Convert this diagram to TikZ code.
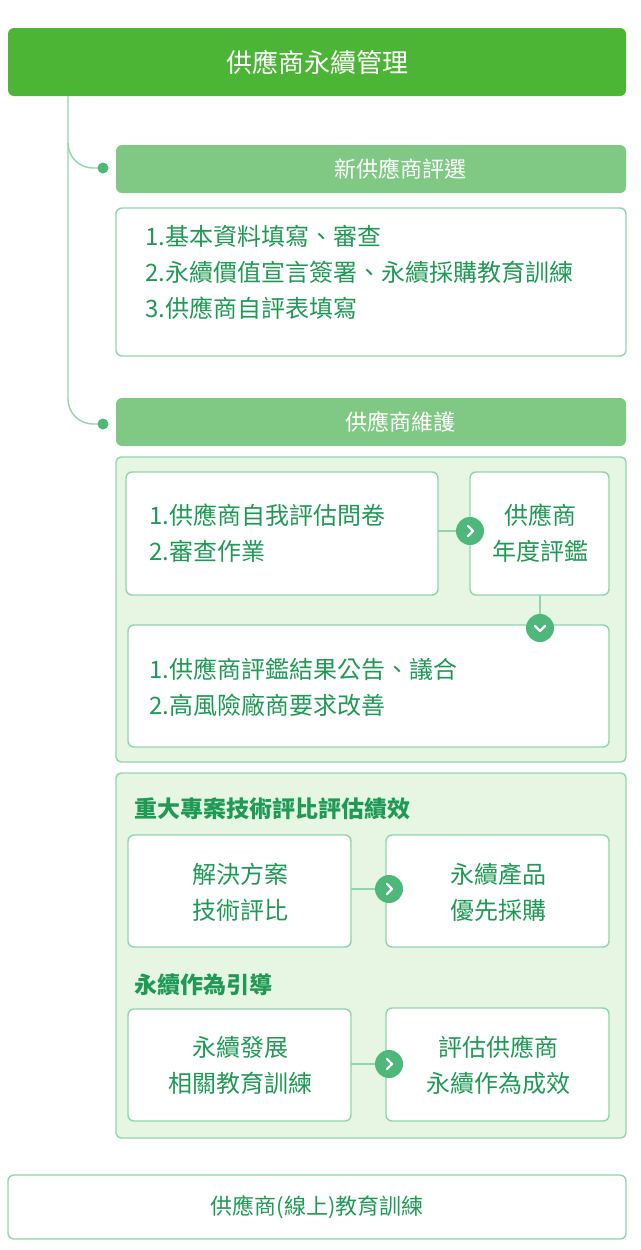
\documentclass[tikz,border=0pt]{standalone}
\usepackage{fontspec}
\setmainfont{Noto Sans CJK TC}
\definecolor{dgreen}{HTML}{4CB535}
\definecolor{hgreen}{HTML}{80C985}
\definecolor{bline}{HTML}{90D5AC}
\definecolor{pfill}{HTML}{E6F6E3}
\definecolor{tgreen}{HTML}{1F9A55}
\definecolor{cgreen}{HTML}{4DB87A}
\tikzset{x=1pt,y=-1pt,
 wbox/.style={draw=bline,line width=1.4pt,fill=white,rounded corners=6pt},
 panel/.style={draw=bline,line width=1.4pt,fill=pfill,rounded corners=5pt},
 txt/.style={text=tgreen,font=\fontsize{24}{36}\selectfont,align=left},
 ctxt/.style={text=tgreen,font=\fontsize{24}{36}\selectfont,align=center},
 ttl/.style={text=tgreen,font=\bfseries\fontsize{23}{26}\selectfont,anchor=west},
 hdr/.style={text=white,font=\fontsize{22}{26}\selectfont},
 conn/.style={bline,line width=1.4pt},
 circ/.style={circle,fill=cgreen,minimum size=28pt,inner sep=0pt}}
\usetikzlibrary{calc}
\newcommand{\chevR}[1]{\draw[white,line width=2.4pt,line cap=round,line join=round] ($(#1)+(-2,-5)$) -- ($(#1)+(3,0)$) -- ($(#1)+(-2,5)$);}
\newcommand{\chevD}[1]{\draw[white,line width=2.4pt,line cap=round,line join=round] ($(#1)+(-5,-2)$) -- ($(#1)+(0,3)$) -- ($(#1)+(5,-2)$);}
\begin{document}
\begin{tikzpicture}
\useasboundingbox (0,0) rectangle (640,1250);
% top bar
\fill[dgreen,rounded corners=6pt] (8,28) rectangle (626,96);
\node[text=white,font=\fontsize{26}{30}\selectfont] (top) at (317,62) {供應商永續管理};
% tree line
\coordinate (d1) at (103,168);
\coordinate (d2) at (103,424);
\draw[conn] (68,96) -- (68,143) arc[start angle=180,end angle=90,radius=25] -- (d1);
\draw[conn] (68,143) -- (68,399) arc[start angle=180,end angle=90,radius=25] -- (d2);
\fill[cgreen] (d1) circle (5.5);
\fill[cgreen] (d2) circle (5.5);
% section 1
\fill[hgreen,rounded corners=6pt] (116,145) rectangle (626,193);
\node[hdr] (h1) at (400,169) {新供應商評選};
\draw[wbox] (116,208) rectangle (626,356);
\node[txt,anchor=north west] (t1) at (142,222) {1.基本資料填寫、審查\\2.永續價值宣言簽署、永續採購教育訓練\\3.供應商自評表填寫};
% section 2
\fill[hgreen,rounded corners=6pt] (116,398) rectangle (626,446);
\node[hdr] (h2) at (400,422) {供應商維護};
\draw[panel] (116,457) rectangle (626,762);
\draw[wbox] (126,472) rectangle (438,595);
\node[txt,anchor=west] (a) at (146,533) {1.供應商自我評估問卷\\2.審查作業};
\draw[wbox] (470,472) rectangle (609,595);
\node[ctxt] (b) at (540,533) {供應商\\年度評鑑};
\draw[conn] (438,531) -- (470,531);
\node[circ] (c1) at (470,531) {}; \chevR{c1}
\draw[wbox] (128,625) rectangle (609,747);
\node[txt,anchor=west] (c) at (146,687) {1.供應商評鑑結果公告、議合\\2.高風險廠商要求改善};
\draw[conn] (540,595) -- (540,625);
\node[circ] (c2) at (540,628) {}; \chevD{c2}
% panel 2
\draw[panel] (116,773) rectangle (626,1138);
\node[ttl] (p1) at (131,809) {重大專案技術評比評估績效};
\draw[wbox] (128,835) rectangle (351,947);
\node[ctxt] (d) at (240,892) {解決方案\\技術評比};
\draw[wbox] (386,835) rectangle (609,947);
\node[ctxt] (e) at (498,892) {永續產品\\優先採購};
\draw[conn] (351,889) -- (386,889);
\node[circ] (c3) at (389,889) {}; \chevR{c3}
\node[ttl] (p2) at (131,985) {永續作為引導};
\draw[wbox] (128,1009) rectangle (351,1121);
\node[ctxt] (f) at (240,1065) {永續發展\\相關教育訓練};
\draw[wbox] (386,1008) rectangle (609,1121);
\node[ctxt] (g) at (498,1065) {評估供應商\\永續作為成效};
\draw[conn] (351,1064) -- (386,1064);
\node[circ] (c4) at (389,1064) {}; \chevR{c4}
% bottom
\draw[wbox] (8,1175) rectangle (626,1239);
\node[text=tgreen,font=\fontsize{22}{26}\selectfont] (bot) at (317,1207) {供應商(線上)教育訓練};
\end{tikzpicture}
\end{document}
